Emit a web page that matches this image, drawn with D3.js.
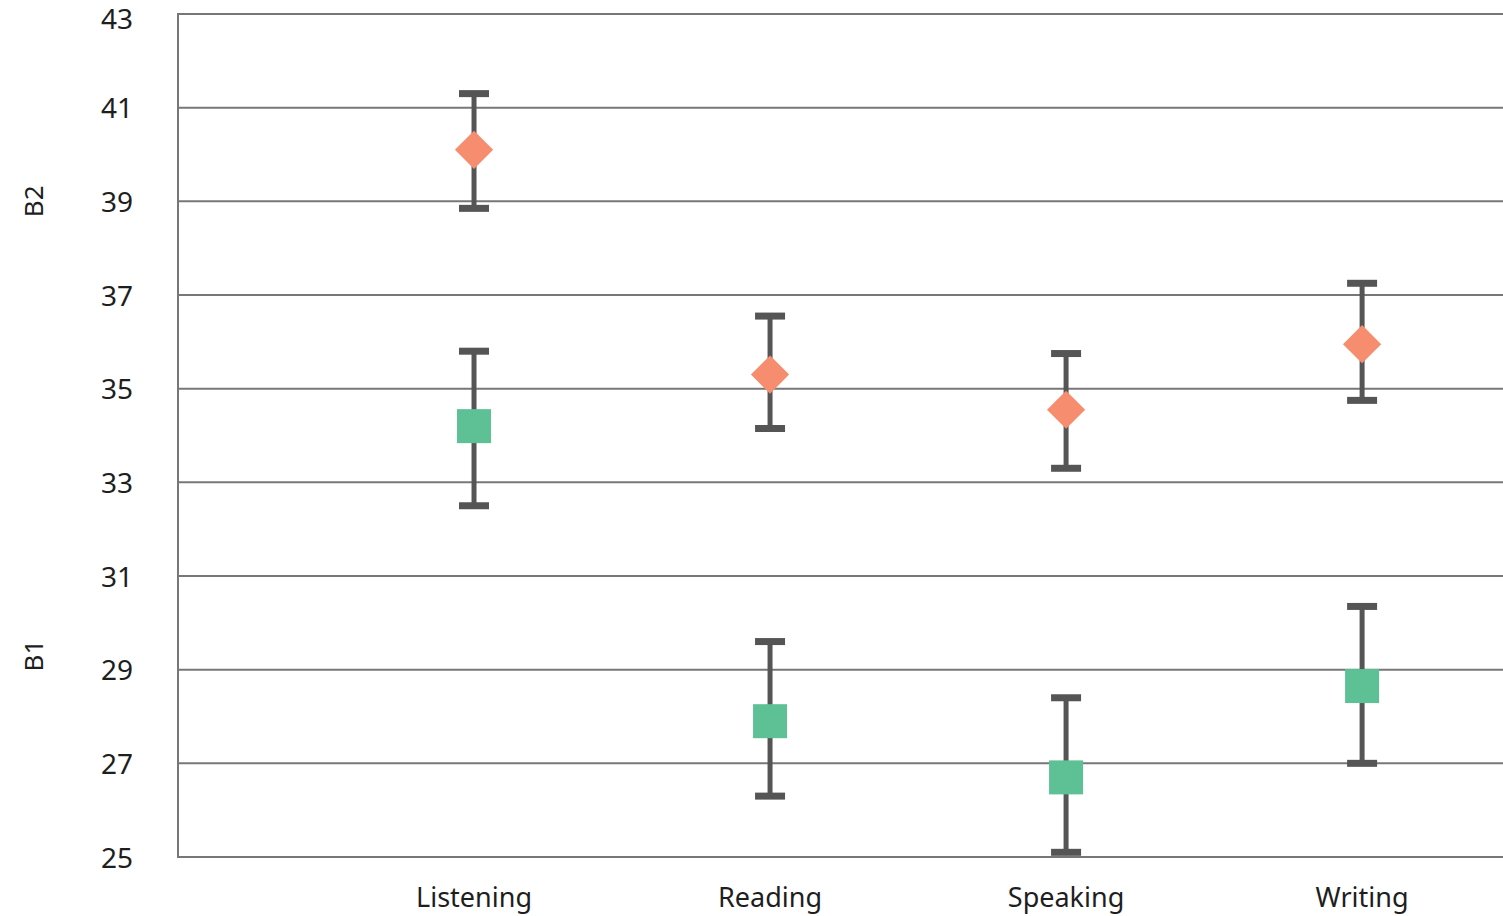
<!DOCTYPE html>
<html>
<head>
<meta charset="utf-8">
<script src="https://cdn.jsdelivr.net/npm/d3@7"></script>
<style>
  html, body { margin: 0; padding: 0; background: #fff; }
  svg { display: block; }
  text { font-family: "Noto Sans", "Open Sans", sans-serif; fill: #1e1e1e; }
</style>
</head>
<body>
<svg id="chart" width="1503" height="916"></svg>
<script>
const categories = ["Listening", "Reading", "Speaking", "Writing"];
const yTicks = [25, 27, 29, 31, 33, 35, 37, 39, 41, 43];
// B2 series (orange diamonds)
const b2Mean  = [40.1, 35.3, 34.55, 35.95];
const b2Upper = [41.3, 36.55, 35.75, 37.25];
const b2Lower = [38.85, 34.15, 33.3, 34.75];
// B1 series (green squares)
const b1Mean  = [34.2, 27.9, 26.7, 28.65];
const b1Upper = [35.8, 29.6, 28.4, 30.35];
const b1Lower = [32.5, 26.3, 25.1, 27.0];
const groupLabels = [{name: "B2", value: 39}, {name: "B1", value: 29.3}];

const W = 1503, H = 916;
const margin = {left: 178, right: 0, top: 14, bottom: 59};
const svg = d3.select("#chart");

const y = d3.scaleLinear().domain([25, 43]).range([H - margin.bottom, margin.top]);
const plotW = W - margin.left - margin.right;
const step = plotW / 4.476;
const x = d3.scalePoint().domain(categories).range([margin.left + step, margin.left + step * 4]);

// gridlines
svg.append("g").selectAll("line").data(yTicks).join("line")
  .attr("x1", margin.left).attr("x2", W - margin.right)
  .attr("y1", d => y(d)).attr("y2", d => y(d))
  .attr("stroke", "#777").attr("stroke-width", 2);

// left axis line
svg.append("line")
  .attr("x1", margin.left).attr("x2", margin.left)
  .attr("y1", y(43) - 1).attr("y2", y(25) + 1)
  .attr("stroke", "#777").attr("stroke-width", 2);

// y tick labels
svg.append("g").selectAll("text").data(yTicks).join("text")
  .attr("x", 133).attr("y", d => Math.max(y(d) + 3, 21))
  .attr("text-anchor", "end").attr("dominant-baseline", "middle")
  .attr("font-size", 28).text(d => d);

// category labels
svg.append("g").selectAll("text").data(categories).join("text")
  .attr("x", d => x(d)).attr("y", 900)
  .attr("text-anchor", "middle").attr("dominant-baseline", "middle")
  .attr("font-size", 27).text(d => d);

// group labels (rotated)
svg.append("g").selectAll("text").data(groupLabels).join("text")
  .attr("transform", d => `translate(36,${y(d.value)}) rotate(-90)`)
  .attr("text-anchor", "middle").attr("dominant-baseline", "middle")
  .attr("font-size", 26).text(d => d.name);

function drawSeries(mean, upper, lower, shape, color) {
  const data = categories.map((c, i) => ({c, m: mean[i], u: upper[i], l: lower[i]}));
  const g = svg.append("g");
  const eb = g.selectAll("g.eb").data(data).join("g").attr("class", "eb");
  eb.append("line")
    .attr("x1", d => x(d.c)).attr("x2", d => x(d.c))
    .attr("y1", d => y(d.u)).attr("y2", d => y(d.l))
    .attr("stroke", "#555").attr("stroke-width", 5);
  eb.append("line")
    .attr("x1", d => x(d.c) - 15).attr("x2", d => x(d.c) + 15)
    .attr("y1", d => y(d.u)).attr("y2", d => y(d.u))
    .attr("stroke", "#555").attr("stroke-width", 7);
  eb.append("line")
    .attr("x1", d => x(d.c) - 15).attr("x2", d => x(d.c) + 15)
    .attr("y1", d => y(d.l)).attr("y2", d => y(d.l))
    .attr("stroke", "#555").attr("stroke-width", 7);
  if (shape === "diamond") {
    const s = 27;
    g.selectAll("rect.mk").data(data).join("rect").attr("class", "mk")
      .attr("x", -s / 2).attr("y", -s / 2).attr("width", s).attr("height", s)
      .attr("transform", d => `translate(${x(d.c)},${y(d.m)}) rotate(45)`)
      .attr("fill", color);
  } else {
    const s = 34;
    g.selectAll("rect.mk").data(data).join("rect").attr("class", "mk")
      .attr("x", d => x(d.c) - s / 2).attr("y", d => y(d.m) - s / 2)
      .attr("width", s).attr("height", s)
      .attr("fill", color);
  }
}
drawSeries(b2Mean, b2Upper, b2Lower, "diamond", "#f58d6e");
drawSeries(b1Mean, b1Upper, b1Lower, "square", "#5ec196");
</script>
</body>
</html>
